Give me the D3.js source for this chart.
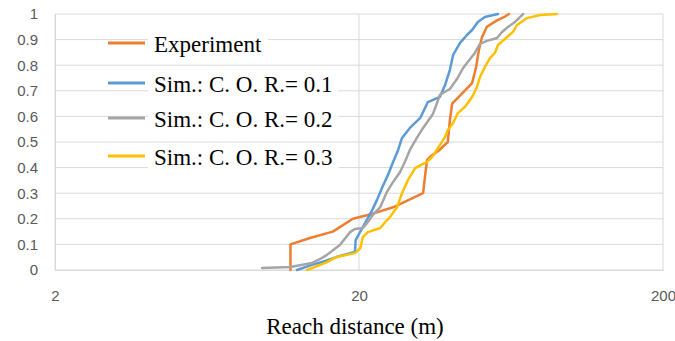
<!DOCTYPE html>
<html>
<head>
<meta charset="utf-8">
<script src="https://cdn.jsdelivr.net/npm/d3@7"></script>
<style>
  body { margin: 0; background: #fff; }
  svg { display: block; }
</style>
</head>
<body>
<svg></svg>
<script>
// series names, in legend order
var seriesNames = ["Experiment", "Sim.: C. O. R.= 0.1", "Sim.: C. O. R.= 0.2", "Sim.: C. O. R.= 0.3"];
var seriesColors = ["#ED7D31", "#5B9BD5", "#A5A5A5", "#FFC000"];

// reach distance (m) / cumulative fraction
var expX = [11.9, 11.9, 13.8, 16.4, 19.1, 22.2, 25.9, 32.5, 33.0, 33.5, 34.5, 36.9, 39.2, 39.8, 40.5, 43.7, 47.1, 48.5, 49.6, 50.8, 52.7, 56.9, 60.4, 62.3];
var expY = [0, 0.10, 0.125, 0.15, 0.20, 0.22, 0.245, 0.30, 0.37, 0.43, 0.445, 0.47, 0.50, 0.585, 0.65, 0.69, 0.73, 0.79, 0.86, 0.91, 0.95, 0.975, 0.99, 1.0];

var sim1X = [12.5, 14.0, 15.5, 17.3, 19.4, 19.5, 20.5, 21.2, 22.1, 22.9, 23.8, 24.9, 25.9, 26.9, 27.7, 29.4, 31.8, 33.7, 36.9, 38.4, 39.8, 40.8, 43.0, 45.3, 47.1, 49.2, 51.9, 57.3];
var sim1Y = [0, 0.02, 0.035, 0.055, 0.07, 0.117, 0.164, 0.195, 0.234, 0.273, 0.32, 0.371, 0.422, 0.469, 0.516, 0.555, 0.594, 0.656, 0.676, 0.723, 0.781, 0.84, 0.887, 0.918, 0.9375, 0.969, 0.988, 1.0];

var sim2X = [9.6, 11.9, 14.0, 14.9, 15.5, 16.3, 17.3, 18.7, 19.4, 20.6, 21.4, 22.2, 23.5, 24.7, 25.9, 27.3, 28.3, 29.4, 31.0, 32.5, 35.0, 36.1, 36.9, 39.8, 42.0, 44.0, 46.4, 48.1, 50.0, 52.7, 56.9, 59.1, 61.8, 65.2, 67.7, 69.3];
var sim2Y = [0.008, 0.012, 0.027, 0.043, 0.055, 0.074, 0.098, 0.148, 0.16, 0.164, 0.1875, 0.215, 0.246, 0.305, 0.344, 0.383, 0.422, 0.469, 0.516, 0.555, 0.609, 0.652, 0.684, 0.707, 0.746, 0.789, 0.824, 0.848, 0.883, 0.895, 0.906, 0.93, 0.949, 0.969, 0.988, 1.0];

var sim3X = [13.5, 14.9, 15.7, 16.9, 19.4, 20.2, 20.6, 21.4, 23.5, 24.4, 25.3, 26.7, 27.7, 29.0, 30.6, 33.5, 35.0, 36.4, 38.4, 39.2, 40.8, 42.3, 44.6, 47.1, 48.9, 50.0, 51.9, 53.9, 56.0, 57.3, 61.4, 64.2, 66.2, 71.4, 78.8, 89.6];
var sim3Y = [0, 0.02, 0.031, 0.051, 0.066, 0.086, 0.129, 0.148, 0.164, 0.1875, 0.207, 0.246, 0.30, 0.352, 0.398, 0.422, 0.445, 0.477, 0.52, 0.547, 0.574, 0.613, 0.637, 0.676, 0.715, 0.754, 0.793, 0.828, 0.848, 0.879, 0.91, 0.93, 0.957, 0.984, 0.996, 1.0];

var xTicks = [2, 20, 200];
var yTicks = [0, 0.1, 0.2, 0.3, 0.4, 0.5, 0.6, 0.7, 0.8, 0.9, 1];
var xTitle = "Reach distance (m)";

var svgWidth = 675, svgHeight = 341;
var margin = { top: 14, right: 12, bottom: 71, left: 55 };
var width = svgWidth - margin.left - margin.right;
var height = svgHeight - margin.top - margin.bottom;

var svg = d3.select("svg")
    .attr("width", svgWidth)
    .attr("height", svgHeight);

var g = svg.append("g")
    .attr("transform", "translate(" + margin.left + "," + margin.top + ")");

var xScale = d3.scaleLog().domain([2, 200]).range([0, width]);
var yScale = d3.scaleLinear().domain([0, 1]).range([height, 0]);

// gridlines
g.append("g")
    .selectAll("line")
    .data(yTicks)
    .join("line")
    .attr("x1", 0).attr("x2", width)
    .attr("y1", d => yScale(d)).attr("y2", d => yScale(d))
    .attr("stroke", "#d9d9d9")
    .attr("stroke-width", 1);

g.append("g")
    .selectAll("line")
    .data(xTicks)
    .join("line")
    .attr("x1", d => xScale(d)).attr("x2", d => xScale(d))
    .attr("y1", 0).attr("y2", height)
    .attr("stroke", "#d9d9d9")
    .attr("stroke-width", 1);

// axes
var yAxis = g.append("g")
    .call(d3.axisLeft(yScale).tickValues(yTicks).tickSize(0).tickPadding(17).tickFormat(d => +d.toFixed(1)));
yAxis.select(".domain").attr("stroke", "#d9d9d9");
yAxis.selectAll("text")
    .attr("fill", "#595959")
    .style("font-family", "'Liberation Sans', Arial, sans-serif")
    .style("font-size", "15px");

var xAxis = g.append("g")
    .attr("transform", "translate(0," + height + ")")
    .call(d3.axisBottom(xScale).tickValues(xTicks).tickSize(0).tickPadding(20).tickFormat(d => d));
xAxis.select(".domain").attr("stroke", "#d9d9d9");
xAxis.selectAll("text")
    .attr("fill", "#595959")
    .style("font-family", "'Liberation Sans', Arial, sans-serif")
    .style("font-size", "15px");

g.append("text")
    .attr("x", xScale(20) - 4)
    .attr("y", height + 64)
    .attr("text-anchor", "middle")
    .attr("fill", "#000")
    .style("font-family", "'Liberation Serif', 'Times New Roman', serif")
    .style("font-size", "23px")
    .text(xTitle);

// lines, drawn in series order (last one on top)
var series = [
    { xs: expX, ys: expY },
    { xs: sim1X, ys: sim1Y },
    { xs: sim2X, ys: sim2Y },
    { xs: sim3X, ys: sim3Y }
];

var line = d3.line()
    .x(d => xScale(d[0]))
    .y(d => yScale(d[1]));

series.forEach(function (s, i) {
    var pts = s.xs.map((x, j) => [x, s.ys[j]]);
    g.append("path")
        .datum(pts)
        .attr("fill", "none")
        .attr("stroke", seriesColors[i])
        .attr("stroke-width", 2.5)
        .attr("stroke-linejoin", "round")
        .attr("stroke-linecap", "round")
        .attr("d", line);
});

// legend
var legendBase = [52, 92, 127, 165];
var legend = svg.append("g");
seriesNames.forEach(function (name, i) {
    var row = legend.append("g");
    var txt = row.append("text")
        .attr("x", 154)
        .attr("y", legendBase[i])
        .attr("fill", "#000")
        .style("font-family", "'Liberation Serif', 'Times New Roman', serif")
        .style("font-size", "23px")
        .text(name);
    var bb = txt.node().getBBox();
    row.insert("rect", "text")
        .attr("x", bb.x - 6)
        .attr("y", bb.y + 2)
        .attr("width", bb.width + 12)
        .attr("height", bb.height - 4)
        .attr("fill", "#fff");
    row.append("line")
        .attr("x1", 108).attr("x2", 145)
        .attr("y1", legendBase[i] - 9).attr("y2", legendBase[i] - 9)
        .attr("stroke", seriesColors[i])
        .attr("stroke-width", 3);
});
</script>
</body>
</html>
